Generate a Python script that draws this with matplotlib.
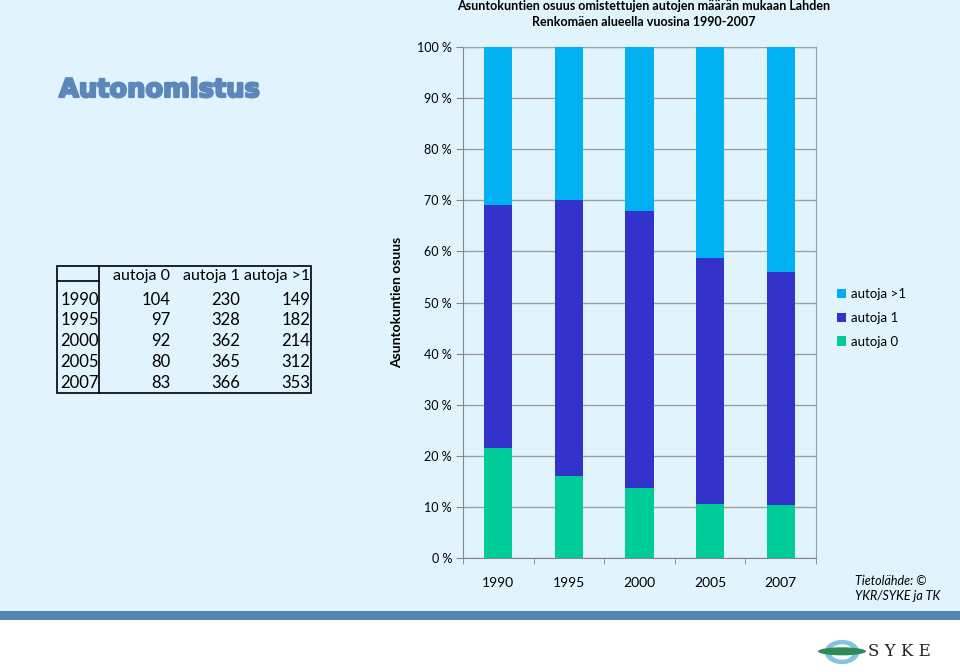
import numpy as np
import matplotlib.pyplot as plt
import matplotlib.patheffects as pe
from matplotlib.patches import Rectangle, Ellipse, Wedge
from matplotlib.lines import Line2D

years = ["1990", "1995", "2000", "2005", "2007"]
autoja_0 = [104, 97, 92, 80, 83]
autoja_1 = [230, 328, 362, 365, 366]
autoja_yli1 = [149, 182, 214, 312, 353]
series_names = ["autoja 0", "autoja 1", "autoja >1"]
colors = ["#00CC99", "#3333CC", "#00B0F0"]
yticks = [0, 10, 20, 30, 40, 50, 60, 70, 80, 90, 100]

bg = "#E1F3FD"
plt.rcParams["font.family"] = ["Lato", "DejaVu Sans"]

fig = plt.figure(figsize=(9.6, 6.72), dpi=100)
fig.patch.set_facecolor("white")

W, H = 960, 672
def fx(x):
    return x / W
def fy(y):
    return 1 - y / H

# slide background and stripe
fig.add_artist(Rectangle((0, fy(611)), 1, 611 / H, transform=fig.transFigure,
                         facecolor=bg, edgecolor="none", zorder=0))
fig.add_artist(Rectangle((0, fy(620)), 1, 9 / H, transform=fig.transFigure,
                         facecolor="#5583B5", edgecolor="none", zorder=0))

# big title
fig.text(fx(59), fy(90), "Autonomistus", fontsize=18.5, fontweight="heavy",
         family="DejaVu Sans", color="#5B87BA", va="center", ha="left",
         path_effects=[pe.withStroke(linewidth=1.6, foreground="#5B87BA")])

# chart
ax = fig.add_axes([fx(463), fy(558), fx(816 - 463), (558 - 47) / H])
ax.set_facecolor(bg)
tot = np.array(autoja_0) + np.array(autoja_1) + np.array(autoja_yli1)
x = np.arange(len(years))
bottom = np.zeros(len(years))
bars = []
for vals, c, name in zip([autoja_0, autoja_1, autoja_yli1], colors, series_names):
    pct = np.array(vals) / tot * 100
    b = ax.bar(x, pct, 0.4, bottom=bottom, color=c, label=name, zorder=3)
    bars.append(b)
    bottom += pct

ax.set_xlim(-0.5, len(years) - 0.5)
ax.set_ylim(0, 100)
ax.set_yticks(yticks)
ax.set_yticklabels([f"{t} %" for t in yticks], fontsize=9)
ax.set_xticks(x)
ax.set_xticklabels(years, fontsize=10)
ax.set_xticks(np.arange(len(years) + 1) - 0.5, minor=True)
ax.tick_params(axis="x", which="major", length=0, pad=14)
ax.tick_params(axis="x", which="minor", length=4, color="#868686")
ax.tick_params(axis="y", length=5, color="#868686", pad=3)
ax.grid(axis="y", color="#A0A0A0", linewidth=1, zorder=0)
for s in ax.spines.values():
    s.set_color("#A0A0A0")
ax.spines["left"].set_color("#868686")
ax.spines["bottom"].set_color("#868686")
ax.set_ylabel("Asuntokuntien osuus", fontsize=10, fontweight="bold", labelpad=10)

fig.text(fx(644), fy(6), "Asuntokuntien osuus omistettujen autojen määrän mukaan Lahden",
         fontsize=9, fontweight="bold", ha="center", va="center")
fig.text(fx(644), fy(22), "Renkomäen alueella vuosina 1990-2007",
         fontsize=9, fontweight="bold", ha="center", va="center")

# legend
handles = [bars[2], bars[1], bars[0]]
fig.legend(handles, ["autoja >1", "autoja 1", "autoja 0"], loc="upper left",
           bbox_to_anchor=(fx(825), fy(276)), frameon=False, fontsize=9.5,
           handlelength=0.7, handleheight=0.7, handletextpad=0.4, labelspacing=0.9)

# source
fig.text(fx(855), fy(581), "Tietolähde: ©", fontsize=9, style="italic", va="center")
fig.text(fx(855), fy(596), "YKR/SYKE ja TK", fontsize=9, style="italic", va="center")

# data table
tl, tr, tt, tb = 57, 311, 266, 393
fig.add_artist(Rectangle((fx(tl), fy(tb)), fx(tr - tl), (tb - tt) / H,
                         transform=fig.transFigure, facecolor="none",
                         edgecolor="black", linewidth=1.2))
fig.add_artist(Line2D([fx(99), fx(99)], [fy(tt), fy(tb)], transform=fig.transFigure,
                      color="black", linewidth=1.2))
fig.add_artist(Line2D([fx(tl), fx(99)], [fy(281), fy(281)], transform=fig.transFigure,
                      color="black", linewidth=1.2))
col_right = [170, 240, 310]
for cr, name in zip(col_right, series_names):
    fig.text(fx(cr), fy(276), name, fontsize=11.5, ha="right", va="center")
row_y = [300, 320, 341, 362, 383]
for i, yr in enumerate(years):
    fig.text(fx(99), fy(row_y[i]), yr, fontsize=12, ha="right", va="center")
    for cr, vals in zip(col_right, [autoja_0, autoja_1, autoja_yli1]):
        fig.text(fx(cr), fy(row_y[i]), str(vals[i]), fontsize=12, ha="right", va="center")

# SYKE logo
lx, ly = 842, 652
fig.add_artist(Wedge((fx(lx), fy(ly)), 0.018, 0, 360, width=0.0065,
                     transform=fig.transFigure, facecolor="#86C2E3", edgecolor="none"))
fig.add_artist(Ellipse((fx(lx), fy(ly) + 0.001), 0.05, 0.012, transform=fig.transFigure,
                       facecolor="#2E8B57", edgecolor="none"))
fig.text(fx(868), fy(651), "S Y K E", fontsize=12, family="DejaVu Serif",
         color="#222222", va="center", ha="left")

fig.savefig("out.png", dpi=100, facecolor=fig.get_facecolor())
